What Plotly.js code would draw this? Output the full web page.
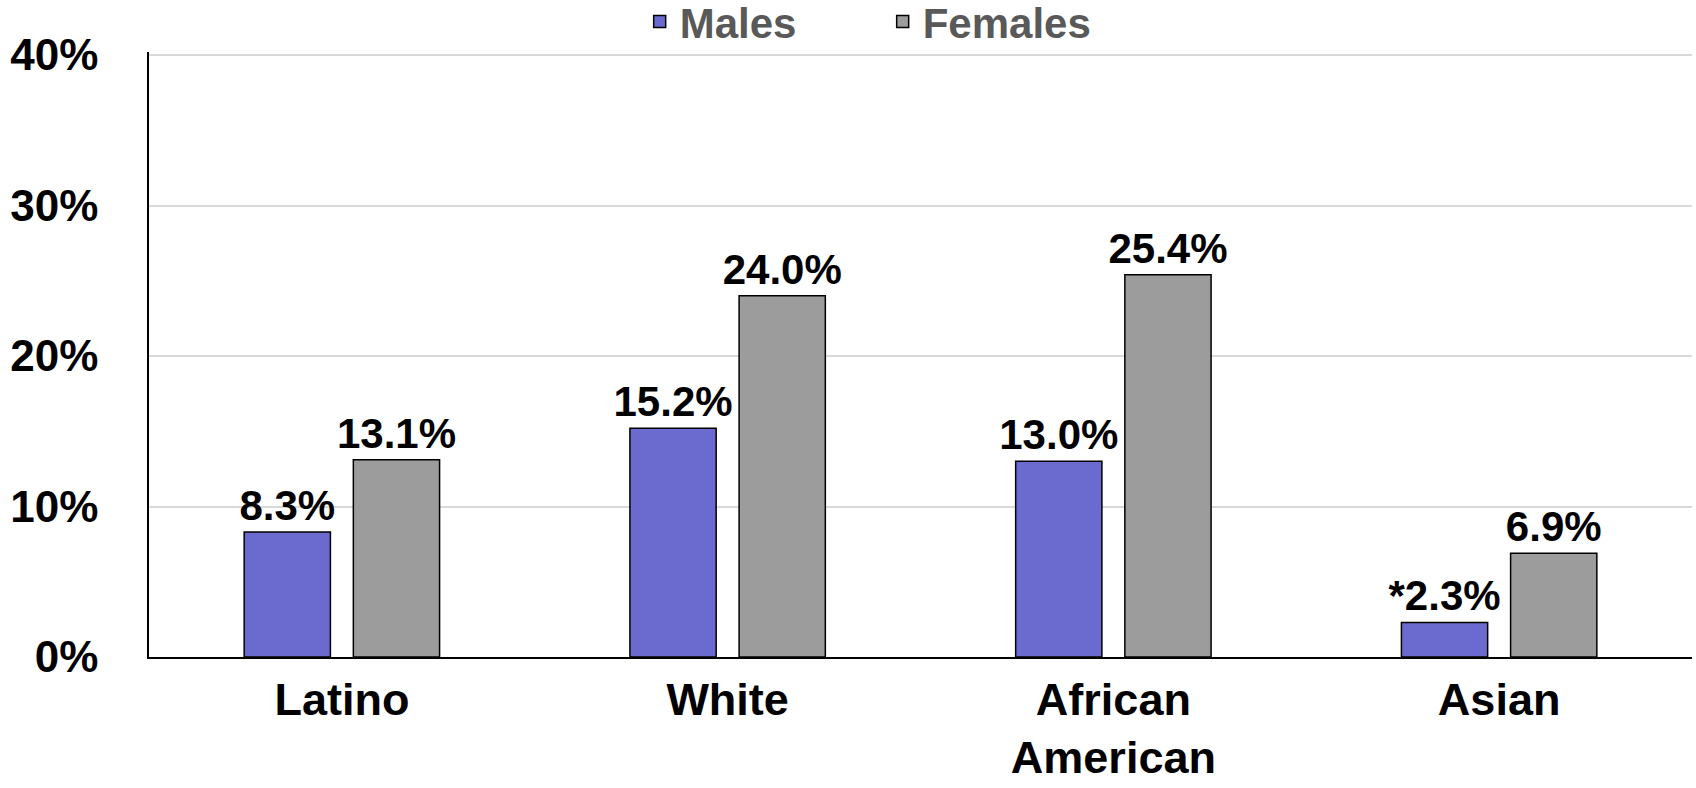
<!DOCTYPE html>
<html><head><meta charset="utf-8">
<script src="https://cdn.plot.ly/plotly-3.0.1.min.js"></script>
<style>body{margin:0;background:#fff}</style></head>
<body><div id="chart" style="width:1696px;height:788px"></div>
<script>
const categories = ['Latino', 'White', 'African<br>American', 'Asian'];
const males = [8.3, 15.2, 13.0, 2.3];
const females = [13.1, 24.0, 25.4, 6.9];
const maleLabels = ['8.3%', '15.2%', '13.0%', '*2.3%'];
const femaleLabels = ['13.1%', '24.0%', '25.4%', '6.9%'];
const yTickVals = [0, 10, 20, 30, 40];
const yTickText = ['0%', '10%', '20%', '30%', '40%'];

const labelFont = {family: 'Liberation Sans, Arial', size: 42, color: '#000', weight: 'bold'};

const traces = [
  {x: categories, y: males, name: 'Males', type: 'bar', text: maleLabels,
   textposition: 'outside', textfont: labelFont, cliponaxis: false, constraintext: 'none',
   marker: {color: '#6b6bcf', line: {color: '#000', width: 1.5}}},
  {x: categories, y: females, name: 'Females', type: 'bar', text: femaleLabels,
   textposition: 'outside', textfont: labelFont, cliponaxis: false, constraintext: 'none',
   marker: {color: '#9c9c9c', line: {color: '#000', width: 1.5}}}
];

const layout = {
  paper_bgcolor: '#fff', plot_bgcolor: '#fff',
  font: {family: 'Liberation Sans, Arial', size: 44, color: '#000', weight: 'bold'},
  margin: {t: 52, l: 149, r: 4, b: 131, autoexpand: false},
  bargap: 0.434, bargroupgap: 0.21,
  showlegend: true,
  legend: {orientation: 'h', x: 0.318, xanchor: 'left', y: 1.05, yanchor: 'middle',
           bgcolor: 'rgba(0,0,0,0)', entrywidth: 198, entrywidthmode: 'pixels',
           font: {size: 42, color: '#595959', weight: 'bold'}, itemwidth: 30,
           traceorder: 'normal'},
  xaxis: {showline: true, linecolor: '#000', linewidth: 1.5, ticks: '',
          tickfont: {size: 45, weight: 'bold'}, ticklabelstandoff: 2},
  yaxis: {range: [0, 40.2], tickvals: yTickVals, ticktext: yTickText, showline: true, linecolor: '#000',
          linewidth: 1.5, gridcolor: '#d9d9d9', gridwidth: 1.5, zeroline: false,
          tickfont: {size: 44, weight: 'bold'}, ticklabelstandoff: 40}
};

Plotly.newPlot('chart', traces, layout, {displayModeBar: false});
</script></body></html>
